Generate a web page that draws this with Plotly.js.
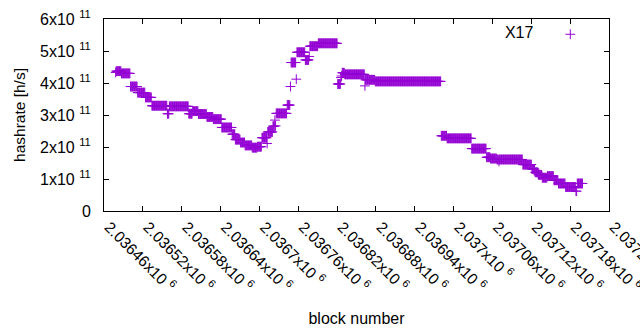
<!DOCTYPE html>
<html>
<head>
<meta charset="utf-8">
<script src="https://cdn.plot.ly/plotly-3.0.1.min.js"></script>
<style>html,body{margin:0;padding:0;background:#fff;}#chart{width:640px;height:330px;}</style>
</head>
<body>
<div id="chart"></div>
<script>
// Data: runs of consecutive blocks sharing the same hashrate estimate
const seriesName = 'X17';
const runStart = [2036478,2036479,2036487,2036501,2036512,2036524,2036534,2036558,2036561,2036563,2036591,2036597,2036606,2036619,2036629,2036642,2036658,2036663,2036671,2036678,2036689,2036697,2036704,2036712,2036713,2036721,2036724,2036725,2036726,2036743,2036748,2036749,2036757,2036758,2036771,2036777,2036778,2036791,2036821,2036826,2036827,2036828,2036832,2036863,2036864,2036879,2036981,2036990,2037028,2037051,2037057,2037067,2037070,2037071,2037107,2037121,2037126,2037131,2037137,2037145,2037155,2037162,2037173,2037189,2037191];
const runEnd   = [2036478,2036486,2036500,2036511,2036523,2036533,2036557,2036560,2036562,2036590,2036596,2036605,2036618,2036628,2036641,2036657,2036662,2036670,2036677,2036688,2036696,2036703,2036711,2036712,2036720,2036723,2036724,2036725,2036742,2036747,2036748,2036756,2036757,2036770,2036776,2036777,2036790,2036820,2036825,2036826,2036827,2036831,2036862,2036863,2036878,2036980,2036989,2037027,2037050,2037056,2037066,2037069,2037070,2037106,2037120,2037125,2037130,2037136,2037144,2037154,2037161,2037172,2037188,2037190,2037199];
const runRate  = [4.33e11,4.37e11,4.30e11,3.89e11,3.70e11,3.55e11,3.29e11,3.04e11,3.27e11,3.27e11,3.04e11,3.12e11,3.03e11,2.94e11,2.87e11,2.61e11,2.40e11,2.23e11,2.14e11,2.05e11,1.98e11,2.01e11,2.29e11,2.11e11,2.47e11,2.65e11,2.84e11,2.66e11,3.05e11,3.31e11,3.89e11,4.64e11,4.12e11,4.96e11,4.72e11,4.83e11,5.15e11,5.24e11,3.97e11,4.17e11,4.22e11,4.32e11,4.27e11,3.91e11,4.10e11,4.05e11,2.35e11,2.27e11,1.95e11,1.68e11,1.64e11,1.61e11,1.55e11,1.61e11,1.45e11,1.31e11,1.21e11,1.13e11,1.04e11,1.09e11,0.96e11,0.86e11,0.75e11,0.62e11,0.86e11];

const xTickVals = [2036460,2036520,2036580,2036640,2036700,2036760,2036820,2036880,2036940,2037000,2037060,2037120,2037180,2037240];
const xTickText = ['2.03646x10 <sup>6</sup>','2.03652x10 <sup>6</sup>','2.03658x10 <sup>6</sup>','2.03664x10 <sup>6</sup>','2.0367x10 <sup>6</sup>','2.03676x10 <sup>6</sup>','2.03682x10 <sup>6</sup>','2.03688x10 <sup>6</sup>','2.03694x10 <sup>6</sup>','2.037x10 <sup>6</sup>','2.03706x10 <sup>6</sup>','2.03712x10 <sup>6</sup>','2.03718x10 <sup>6</sup>','2.03724x10 <sup>6</sup>'];
const yTickVals = [0,1e11,2e11,3e11,4e11,5e11,6e11];
const yTickText = ['0','1x10 <sup>11</sup>','2x10 <sup>11</sup>','3x10 <sup>11</sup>','4x10 <sup>11</sup>','5x10 <sup>11</sup>','6x10 <sup>11</sup>'];

const blocks = [], rates = [];
for (let i = 0; i < runStart.length; i++) {
  for (let b = runStart[i]; b <= runEnd[i]; b++) { blocks.push(b); rates.push(runRate[i]); }
}

const color = 'rgb(148,0,211)';
const fam = '"Liberation Sans", Arial, sans-serif';
const font = {family: fam, size: 15, color: '#000'};
const font16 = {family: fam, size: 16, color: '#000'};

const trace = {
  x: blocks, y: rates, type: 'scatter', mode: 'markers', name: ' ',
  marker: {symbol: 'cross-thin', size: 7, color: color, line: {color: color, width: 1}},
  showlegend: true
};

const axisCommon = {
  showline: true, linecolor: '#000', linewidth: 1, mirror: 'ticks',
  ticks: 'inside', ticklen: 5, tickcolor: '#000', tickwidth: 1,
  showgrid: false, zeroline: false, tickmode: 'array', ticklabeloverflow: 'allow'
};

const layout = {
  width: 640, height: 330,
  margin: {l: 104, r: 31, t: 19, b: 119},
  paper_bgcolor: '#fff', plot_bgcolor: '#fff',
  font: font,
  showlegend: true,
  legend: {x: 0.79, y: 0.92, xanchor: 'left', yanchor: 'middle', bgcolor: 'rgba(0,0,0,0)',
           title: {text: seriesName + '&nbsp;&nbsp;', side: 'left', font: font16}, font: font16},
  xaxis: Object.assign({}, axisCommon, {
    range: [2036460, 2037240], tickvals: xTickVals, ticktext: xTickText, tickangle: 45,
    tickfont: {family: fam, size: 15.5, color: '#000'}, ticklabelshift: 5,
    title: {text: 'block number', font: font16, standoff: 18}, automargin: false
  }),
  yaxis: Object.assign({}, axisCommon, {
    range: [0, 6e11], tickvals: yTickVals, ticktext: yTickText, tickfont: font16,
    ticklabelstandoff: 9,
    title: {text: 'hashrate [h/s]', font: {family: fam, size: 15.5, color: '#000'}, standoff: 10}, automargin: false
  })
};

Plotly.newPlot('chart', [trace], layout, {staticPlot: true, displayModeBar: false});
</script>
</body>
</html>
